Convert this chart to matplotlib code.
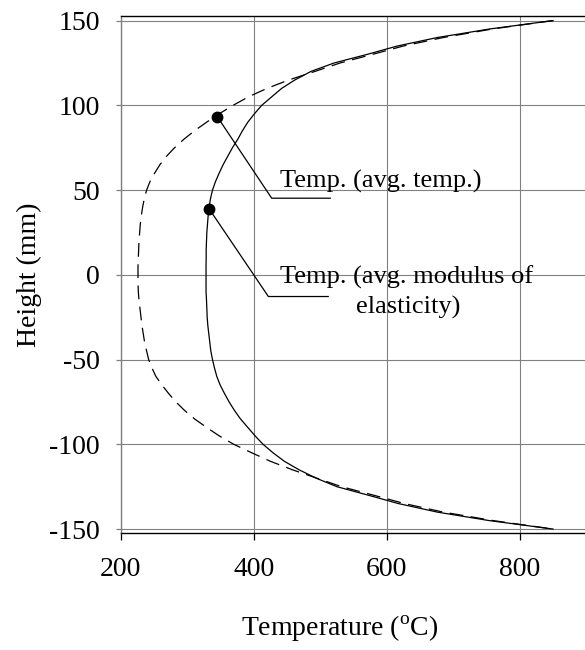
import matplotlib
matplotlib.use("Agg")
import matplotlib.pyplot as plt

# height through the section (mm)
height = [150, 145, 140, 135, 130, 125, 120, 115, 110, 105, 100,
          95, 90, 85, 80, 75, 70, 65, 60, 55, 50, 45, 40, 35, 30, 25, 20, 15, 10, 5,
          0, -5, -10, -15, -20, -25, -30, -35, -40, -45, -50, -55, -60, -65, -70,
          -75, -80, -85, -90, -95,
          -100, -105, -110, -115, -120, -125, -130, -135, -140, -145, -150]

# temperature profile based on average temperature (dashed)
temp_avg = [850, 758, 685, 625, 578, 530, 492, 453, 420, 392, 369,
            348, 329, 311, 295, 281, 269, 259, 251, 244, 239, 235.5, 233, 231, 229.5,
            228.5, 227.5, 227, 226.5, 226,
            226, 226, 226.5, 227.5, 229, 230.5, 232, 234, 236, 239, 242, 247, 253, 262, 272,
            283, 296, 311, 329, 348,
            370, 397, 425, 458, 495, 532, 580, 627, 685, 760, 850]

# temperature profile based on average modulus of elasticity (solid)
temp_mod = [850, 754, 676, 616, 570, 521, 486, 462, 442, 427, 412,
            401, 391, 383, 376, 368, 361, 354, 348, 342.5, 338, 335, 333, 331.5, 330.5,
            329.5, 329, 328.5, 328.5, 328.3,
            328.3, 328.3, 328.3, 329, 329.5, 330, 331, 332.5, 334, 335.5, 338, 341, 344.5, 349.5, 356,
            363, 371, 380, 391, 402,
            414, 429, 446, 468, 494, 525, 572, 618, 676, 754, 850]

# marked points (T, H)
dot_avg = (345, 93.4)
dot_mod = (333, 38.9)

label_avg = "Temp. (avg. temp.)"
label_mod = ["Temp. (avg. modulus of", "elasticity)"]

plt.rcParams["font.family"] = ["Liberation Serif", "DejaVu Serif"]
plt.rcParams["mathtext.fontset"] = "custom"
plt.rcParams["mathtext.rm"] = "Liberation Serif"
plt.rcParams["axes.unicode_minus"] = False

fig = plt.figure(figsize=(5.85, 6.5), dpi=100)
ax = fig.add_axes([120.7 / 585, 1 - 533.3 / 650, 464.3 / 585, 517.3 / 650])

ax.plot(temp_avg, height, color="black", lw=0.9, linestyle=(0, (11, 6)))
ax.plot(temp_mod, height, color="black", lw=0.9)

ax.plot(*dot_avg, "o", color="black", ms=7.5)
ax.plot(*dot_mod, "o", color="black", ms=7.5)

# leader lines
ax.plot([dot_avg[0], 427, 515], [dot_avg[1], 45.2, 45.2], color="black", lw=0.9)
ax.plot([dot_mod[0], 422, 512], [dot_mod[1], -12.8, -12.8], color="black", lw=0.9)

ax.text(439.7, 51.3, label_avg, fontsize=19, ha="left", va="baseline")
ax.text(630, -5.3, label_mod[0], fontsize=19, ha="center", va="baseline")
ax.text(632, -22.6, label_mod[1], fontsize=19, ha="center", va="baseline")

ax.set_xlim(200, 898)
ax.set_ylim(-152.5, 152.7)
ax.set_xticks([200, 400, 600, 800])
ax.set_yticks([-150, -100, -50, 0, 50, 100, 150])

ax.grid(True, color="#808080", lw=0.8)
ax.set_axisbelow(True)

ax.spines["right"].set_visible(False)
ax.spines["top"].set_color("black")
ax.spines["top"].set_linewidth(1.0)
ax.spines["bottom"].set_color("black")
ax.spines["bottom"].set_linewidth(1.0)
ax.spines["left"].set_color("#808080")
ax.spines["left"].set_linewidth(1.0)

ax.tick_params(axis="x", direction="out", length=5.3, width=0.9, color="black",
               labelsize=20, pad=12)
ax.tick_params(axis="y", direction="out", length=3.4, width=0.9, color="#808080",
               labelsize=20, pad=11.5)

ax.set_xlabel("Temperature ($^{\\rm o}$C)", fontsize=20)
ax.xaxis.set_label_coords(0.4723, -0.156)
ax.set_ylabel("Height (mm)", fontsize=20, va="center")
ax.yaxis.set_label_coords(-0.1975, 0.5)

fig.savefig("out.png", dpi=100)
